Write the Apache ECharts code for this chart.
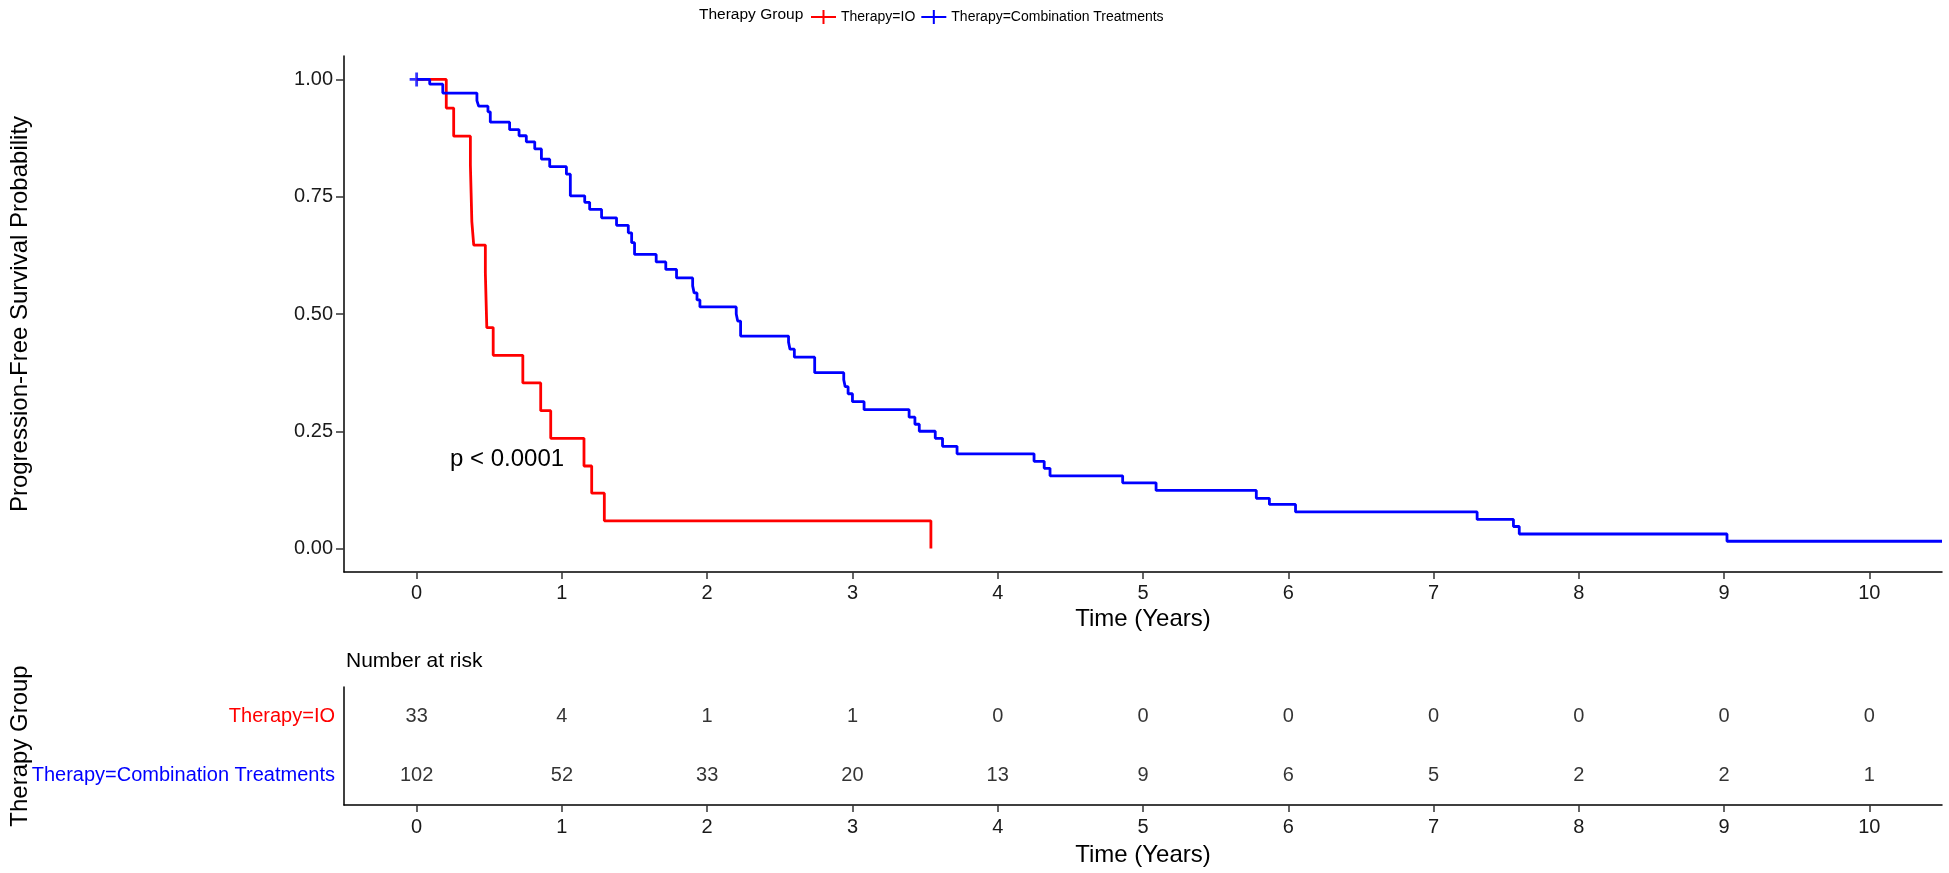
<!DOCTYPE html>
<html>
<head>
<meta charset="utf-8">
<script src="https://cdn.jsdelivr.net/npm/echarts@6/dist/echarts.min.js"></script>
<style>
html,body{margin:0;padding:0;background:#fff;}
#chart{width:1949px;height:873px;}
</style>
</head>
<body>
<div id="chart"></div>
<script>
// ---- Data ----
const groupNames = ['Therapy=IO', 'Therapy=Combination Treatments'];
const ioTimes = [0, 0.204, 0.255, 0.370, 0.375, 0.380, 0.393, 0.473, 0.478, 0.483, 0.527, 0.731, 0.854, 0.923, 1.152, 1.205, 1.292, 3.54];
const ioSurv  = [1, 0.939, 0.879, 0.818, 0.758, 0.697, 0.647, 0.588, 0.529, 0.471, 0.412, 0.353, 0.294, 0.235, 0.176, 0.118, 0.059, 0];
const comboTimes = [0, 0.09, 0.18, 0.415, 0.427, 0.491, 0.507, 0.640, 0.705, 0.755, 0.813, 0.859, 0.916, 1.031, 1.058, 1.157, 1.191, 1.273, 1.376, 1.457, 1.48, 1.50, 1.649, 1.715, 1.789, 1.90, 1.91, 1.93, 1.95, 2.20, 2.21, 2.23, 2.56, 2.57, 2.60, 2.74, 2.94, 2.95, 2.97, 3.00, 3.08, 3.39, 3.43, 3.46, 3.57, 3.62, 3.72, 4.25, 4.32, 4.36, 4.86, 5.09, 5.78, 5.87, 6.05, 7.30, 7.55, 7.59, 9.02, 10.5];
const comboSurv  = [1, 0.990, 0.971, 0.955, 0.943, 0.931, 0.909, 0.893, 0.880, 0.867, 0.852, 0.830, 0.814, 0.798, 0.752, 0.738, 0.723, 0.705, 0.689, 0.673, 0.652, 0.627, 0.611, 0.595, 0.577, 0.560, 0.545, 0.530, 0.515, 0.500, 0.485, 0.453, 0.440, 0.425, 0.408, 0.375, 0.360, 0.345, 0.330, 0.313, 0.296, 0.280, 0.265, 0.250, 0.235, 0.218, 0.202, 0.186, 0.171, 0.155, 0.140, 0.124, 0.107, 0.094, 0.078, 0.062, 0.047, 0.031, 0.0156, 0.0156];
const censorTimes = [0];
const censorSurv  = [1];
const xTicks = [0,1,2,3,4,5,6,7,8,9,10];
const yTicks = [0, 0.25, 0.5, 0.75, 1];
const riskTimes = [0,1,2,3,4,5,6,7,8,9,10];
const riskIO    = [33,4,1,1,0,0,0,0,0,0,0];
const riskCombo = [102,52,33,20,13,9,6,5,2,2,1];
const pValueText = 'p < 0.0001';

// ---- Build ----
const FONT = 'Liberation Sans, Arial, sans-serif';
const RED = '#FF0000', BLUE = '#0000FF';
const zip = (a, b) => a.map((v, i) => [v, b[i]]);
const plusPath = 'path://M4,0H6V4H10V6H6V10H4V6H0V4H4Z';
const legendIcon = 'path://M0,6H25V8H0Z M11.5,0H13.5V14H11.5Z';

const axisLineStyle = {show: true, onZero: false, lineStyle: {color: '#000', width: 1.5}};
function xAxisDef(gridIndex, labelMargin, nameGap) {
  return {
    gridIndex: gridIndex, type: 'value', min: -0.5, max: 10.5,
    axisLine: axisLineStyle,
    axisTick: {show: true, length: 7, customValues: xTicks, lineStyle: {color: '#333', width: 1.5}},
    axisLabel: {customValues: xTicks, fontSize: 20, color: '#1a1a1a', fontFamily: FONT, margin: labelMargin},
    splitLine: {show: false},
    name: 'Time (Years)', nameLocation: 'middle', nameGap: nameGap, nameMoveOverlap: false,
    nameTextStyle: {fontSize: 24, color: '#000', fontFamily: FONT}
  };
}

const chart = echarts.init(document.getElementById('chart'));
chart.setOption({
  animation: false,
  backgroundColor: '#fff',
  grid: [
    {left: 344, top: 56, width: 1598, height: 516, containLabel: false, outerBoundsMode: 'none'},
    {left: 344, top: 687, width: 1598, height: 118, containLabel: false, outerBoundsMode: 'none'}
  ],
  legend: {
    data: groupNames,
    left: 806, top: 5,
    itemWidth: 25, itemHeight: 14, itemGap: 6,
    icon: legendIcon,
    textStyle: {fontSize: 14, color: '#000', fontFamily: FONT}
  },
  xAxis: [
    xAxisDef(0, 11, 35),
    xAxisDef(1, 12, 38)
  ],
  yAxis: [
    {
      gridIndex: 0, type: 'value', min: -0.05, max: 1.05,
      axisLine: axisLineStyle,
      axisTick: {show: true, length: 8, customValues: yTicks, lineStyle: {color: '#333', width: 1.5}},
      axisLabel: {customValues: yTicks, fontSize: 20, color: '#1a1a1a', fontFamily: FONT, margin: 11,
        formatter: v => v.toFixed(2)},
      splitLine: {show: false},
      name: 'Progression-Free Survival Probability', nameLocation: 'middle', nameGap: 312, nameMoveOverlap: false,
      nameTextStyle: {fontSize: 24, color: '#000', fontFamily: FONT}
    },
    {
      gridIndex: 1, type: 'category', data: groupNames, inverse: true,
      axisLine: axisLineStyle,
      axisTick: {show: false},
      axisLabel: {fontSize: 20, fontFamily: FONT, margin: 9,
        color: (v, i) => (v === groupNames[0] ? RED : BLUE)},
      splitLine: {show: false},
      name: 'Therapy Group', nameLocation: 'middle', nameGap: 312, nameMoveOverlap: false,
      nameTextStyle: {fontSize: 24, color: '#000', fontFamily: FONT}
    }
  ],
  series: [
    {
      name: groupNames[0], type: 'line', step: 'end', xAxisIndex: 0, yAxisIndex: 0,
      data: zip(ioTimes, ioSurv), showSymbol: false, color: RED,
      lineStyle: {color: RED, width: 2.8}
    },
    {
      name: groupNames[1], type: 'line', step: 'end', xAxisIndex: 0, yAxisIndex: 0,
      data: zip(comboTimes, comboSurv), showSymbol: false, color: BLUE,
      lineStyle: {color: BLUE, width: 2.8}
    },
    {
      name: 'censor', type: 'scatter', xAxisIndex: 0, yAxisIndex: 0,
      data: zip(censorTimes, censorSurv), symbol: plusPath, symbolSize: 14,
      itemStyle: {color: BLUE}
    },
    {
      name: 'riskIO', type: 'scatter', xAxisIndex: 1, yAxisIndex: 1,
      data: riskTimes.map((t, i) => [t, 0, riskIO[i]]), symbolSize: 0,
      label: {show: true, position: 'inside', formatter: p => String(p.value[2]),
        fontSize: 20, color: '#000', fontFamily: FONT}
    },
    {
      name: 'riskCombo', type: 'scatter', xAxisIndex: 1, yAxisIndex: 1,
      data: riskTimes.map((t, i) => [t, 1, riskCombo[i]]), symbolSize: 0,
      label: {show: true, position: 'inside', formatter: p => String(p.value[2]),
        fontSize: 20, color: '#000', fontFamily: FONT}
    }
  ],
  graphic: [
    {type: 'text', left: 699, top: 7, style: {text: 'Therapy Group', fontSize: 15.5, fill: '#000', fontFamily: FONT}},
    {type: 'text', left: 346, top: 651, style: {text: 'Number at risk', fontSize: 21, fill: '#000', fontFamily: FONT}},
    {type: 'text', left: 450, top: 447, style: {text: pValueText, fontSize: 24, fill: '#000', fontFamily: FONT}}
  ]
});
</script>
</body>
</html>
